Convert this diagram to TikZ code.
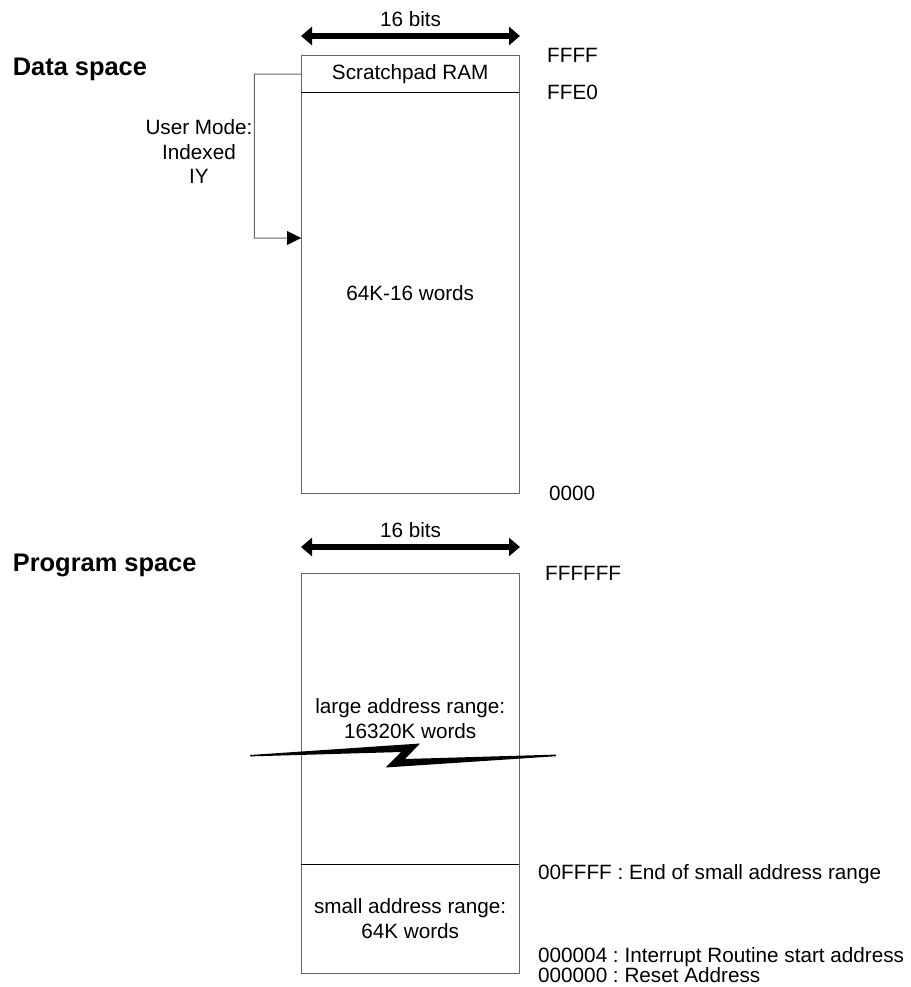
\documentclass[tikz,border=0pt]{standalone}
\usepackage{fontspec}
\setmainfont{Liberation Sans}
\usetikzlibrary{arrows.meta}
\frenchspacing
\begin{document}
\begin{tikzpicture}[x=1pt,y=-1pt,
  lbl/.style={font=\fontsize{20.7}{24.5}\selectfont, inner sep=0pt, align=center},
  ttl/.style={font=\fontsize{25.4}{30}\selectfont\bfseries, inner sep=0pt, anchor=base west},
  addr/.style={font=\fontsize{20.7}{24.5}\selectfont, inner sep=0pt, anchor=base west},
  region/.style={draw=none, inner sep=0pt, minimum width=218pt, anchor=north west, align=center,
                 font=\fontsize{20.7}{24.5}\selectfont},
  outline/.style={draw=black!60, line width=1pt},
  divider/.style={draw=black, line width=1pt},
  widtharrow/.style={line width=6pt, {Triangle[length=11pt,width=18pt]}-{Triangle[length=11pt,width=18pt]}},
  linkline/.style={draw=black!60, line width=1pt},
  linktip/.style={-{Triangle[length=14pt,width=14pt]}}
]
\useasboundingbox (0,0) rectangle (910,987);

% ---------- Data space ----------
\node[ttl] (dtitle) at (12.7,76) {Data space};
\node[lbl] (bits1) at (410.5,19) {16 bits};
\coordinate (a1l) at (301,36);
\coordinate (a1r) at (520,36);
\draw[widtharrow] (a1l) -- (a1r);

\node[region, minimum height=36pt] (scratch) at (301,56) {Scratchpad RAM};
\node[region, minimum height=401pt] (data) at (301,92) {64K-16 words};
\draw[outline] (scratch.north west) rectangle (data.south east);
\draw[divider] (scratch.south west) -- (scratch.south east);

\node[lbl] (umode) at (199,152) {User Mode:\\Indexed\\IY};
\coordinate (ytgt) at (301,238);
\coordinate (ybend) at (254.3,74);
\draw[linkline] (scratch.west) -- (ybend) |- (ytgt);
\draw[linkline, linktip, draw=black] ([xshift=-14pt]ytgt) -- (ytgt);

\node[addr] (ffff) at (547,62.4) {FFFF};
\node[addr] (ffe0) at (547,99.4) {FFE0};
\node[addr] (a0000) at (549,500.4) {0000};

% ---------- Program space ----------
\node[ttl] (ptitle) at (12.7,571) {Program space};
\node[lbl] (bits2) at (410.5,530) {16 bits};
\coordinate (a2l) at (301,547);
\coordinate (a2r) at (520,547);
\draw[widtharrow] (a2l) -- (a2r);

\node[region, minimum height=291pt] (large) at (301,573) {large address range:\\16320K words};
\node[region, minimum height=109pt] (small) at (301,864) {small address range:\\64K words};
\draw[outline] (large.north west) rectangle (small.south east);
\draw[divider] (large.south west) -- (large.south east);

% break symbol
\fill[black] (250,755) -- (420,743.5) -- (405,759) -- (556,754.6) -- (556,756.2)
  -- (385.5,767.5) -- (401,752) -- (250,756.4) -- cycle;

\node[addr] (ffffff) at (545,580.4) {FFFFFF};
\node[addr] (a00ffff) at (538,879.4) {00FFFF : End of small address range};
\node[addr] (a04) at (538,962.4) {000004 : Interrupt Routine start address};
\node[addr] (a00) at (538,982.4) {000000 : Reset Address};
\end{tikzpicture}
\end{document}
